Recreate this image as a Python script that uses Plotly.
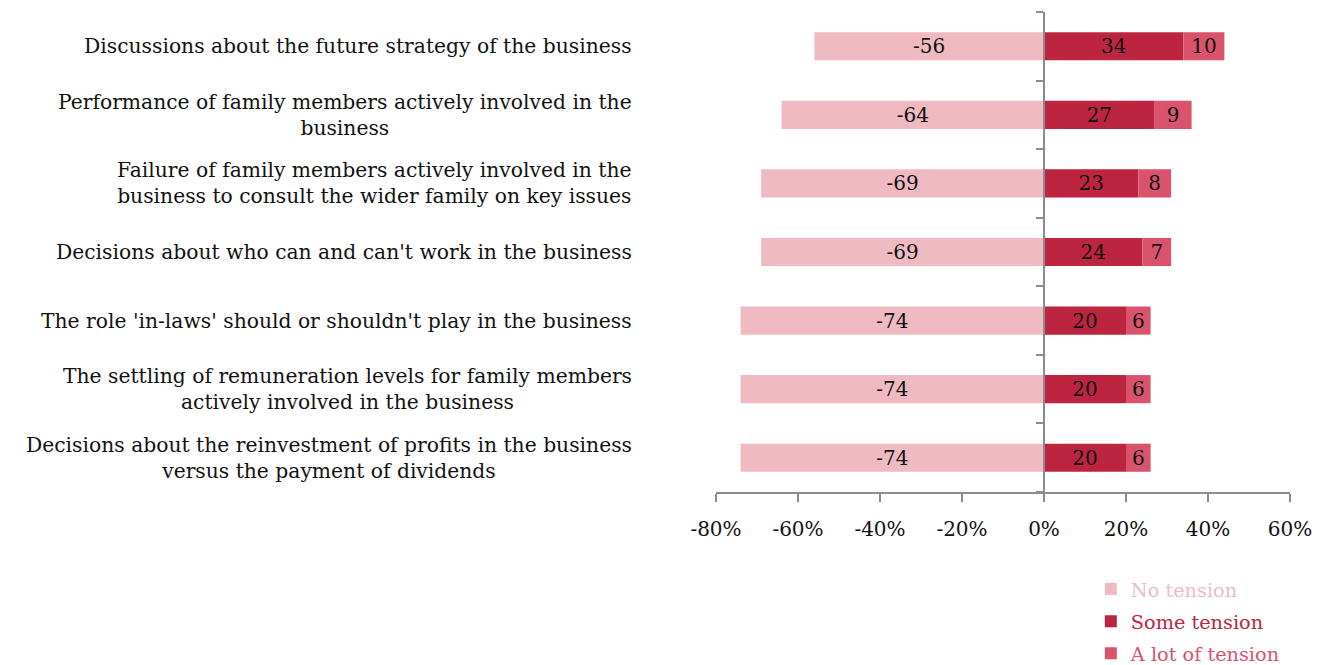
import plotly.graph_objects as go

# Survey items (top to bottom)
categories = [
    "Discussions about the future strategy of the business",
    "Performance of family members actively involved in the<br>business",
    "Failure of family members actively involved in the<br>business to consult the wider family on key issues",
    "Decisions about who can and can't work in the business",
    "The role 'in-laws' should or shouldn't play in the business",
    "The settling of remuneration levels for family members<br>actively involved in the business",
    "Decisions about the reinvestment of profits in the business<br>versus the payment of dividends",
]
no_tension = [-56, -64, -69, -69, -74, -74, -74]
some_tension = [34, 27, 23, 24, 20, 20, 20]
lot_of_tension = [10, 9, 8, 7, 6, 6, 6]

x_ticks = [-80, -60, -40, -20, 0, 20, 40, 60]

FONT = "DejaVu Serif"
C_NO = "#F0BAC3"
C_SOME = "#BC2440"
C_LOT = "#D9536C"
AXIS = "#8c8c8c"

ids = list(range(len(categories)))

fig = go.Figure()
for name, vals, col in [
    ("No tension", no_tension, C_NO),
    ("Some tension", some_tension, C_SOME),
    ("A lot of tension", lot_of_tension, C_LOT),
]:
    fig.add_trace(go.Bar(
        y=ids, x=vals, orientation="h",
        name=f"<span style='color:{col}'>{name}</span>",
        legendgroup=name,
        marker=dict(color=col, line=dict(width=0)),
        text=[str(v) for v in vals],
        textposition="inside", insidetextanchor="middle",
        textfont=dict(family=FONT, size=20, color="#111111"),
        textangle=0, constraintext="none",
    ))

# Category labels to the left of the plot
x0, x1 = x_ticks[0], x_ticks[-1]
for i, lab in enumerate(categories):
    fig.add_annotation(
        x=-0.142, xref="paper", y=i, yref="y",
        text=lab, showarrow=False, xanchor="right", yanchor="middle",
        align="center", font=dict(family=FONT, size=20.3, color="#111111"),
    )

fig.update_layout(
    width=1317, height=665,
    margin=dict(l=716, r=27, t=12, b=173, autoexpand=False),
    plot_bgcolor="white", paper_bgcolor="white",
    barmode="relative", bargap=0.59,
    font=dict(family=FONT, size=20, color="#111111"),
    showlegend=True,
    legend=dict(
        x=0.653, y=-0.1625, xanchor="left", yanchor="top",
        orientation="v", traceorder="grouped",
        font=dict(family=FONT, size=19.3),
        itemwidth=30, tracegroupgap=4,
    ),
    xaxis=dict(
        range=[x0, x1], tickvals=x_ticks,
        ticktext=[f"{v}%" for v in x_ticks],
        showgrid=False, zeroline=False,
        showline=True, linecolor=AXIS, linewidth=1.5,
        ticks="outside", ticklen=8, tickcolor=AXIS, tickwidth=1.5,
        ticklabelstandoff=10,
        tickfont=dict(family=FONT, size=20, color="#111111"),
        fixedrange=True,
    ),
    yaxis=dict(
        range=[len(categories) - 0.5, -0.5],
        tickvals=[b - 0.5 for b in range(len(categories) + 1)],
        anchor="free", position=(0 - x0) / (x1 - x0),
        showticklabels=False, showgrid=False, zeroline=False,
        showline=True, linecolor=AXIS, linewidth=1.5,
        ticks="outside", ticklen=7, tickcolor=AXIS, tickwidth=1.5,
        fixedrange=True,
    ),
)

fig.write_html("out.html")
